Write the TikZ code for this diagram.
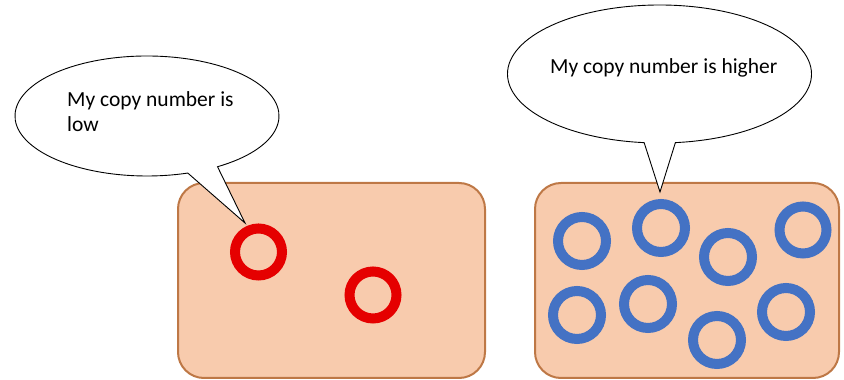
\documentclass[tikz,border=0pt]{standalone}
\usepackage{fontspec}
\setmainfont{Carlito}
\usetikzlibrary{calc}
\definecolor{cellfill}{RGB}{248,203,173}
\definecolor{celledge}{RGB}{190,120,70}
\definecolor{ringred}{RGB}{229,0,0}
\definecolor{ringblue}{RGB}{68,114,196}
\begin{document}
\begin{tikzpicture}[x=1pt,y=1pt,
  cell/.style={draw=celledge,fill=cellfill,line width=2pt,rounded corners=26pt},
  redring/.style={draw=ringred,line width=10pt},
  bluering/.style={draw=ringblue,line width=10pt},
  callout/.style={draw=black,fill=white,line width=0.9pt,line join=miter},
  say/.style={font=\fontsize{21.5}{25}\selectfont,inner sep=0pt,align=left}]
\useasboundingbox (0,0) rectangle (844,380);
% cells
\draw[cell] (178,2) rectangle (485,197);
\draw[cell] (535,2) rectangle (839,197);
% red plasmids
\draw[redring] (258.5,128) circle[radius=23.5];
\draw[redring] (373,85) circle[radius=23.5];
% blue plasmids
\draw[bluering] (582,139) circle[radius=24];
\draw[bluering] (661,152) circle[radius=24];
\draw[bluering] (728,123) circle[radius=24];
\draw[bluering] (803,150) circle[radius=23.5];
\draw[bluering] (577,65) circle[radius=24];
\draw[bluering] (648,76) circle[radius=24];
\draw[bluering] (717,40) circle[radius=24];
\draw[bluering] (786,68) circle[radius=24];
% callouts
\coordinate (lc) at (147,264);
\coordinate (ltip) at (245,157);
\draw[callout] ($(lc)+(-57.7:132 and 60)$) coordinate (la)
  arc[start angle=-57.7,end angle=288,x radius=132,y radius=60] coordinate (lb)
  -- (ltip) -- cycle;
\coordinate (rc) at (659.5,306);
\coordinate (rtip) at (660,188);
\draw[callout] ($(rc)+(-84:152 and 69)$) coordinate (ra)
  arc[start angle=-84,end angle=264.2,x radius=152,y radius=69] coordinate (rb)
  -- (rtip) -- cycle;
\node[say,anchor=base west] (lowtext) at (67,248) {My copy number is\\low};
\node[say,anchor=base west] (hightext) at (550,306) {My copy number is higher};
\end{tikzpicture}
\end{document}
